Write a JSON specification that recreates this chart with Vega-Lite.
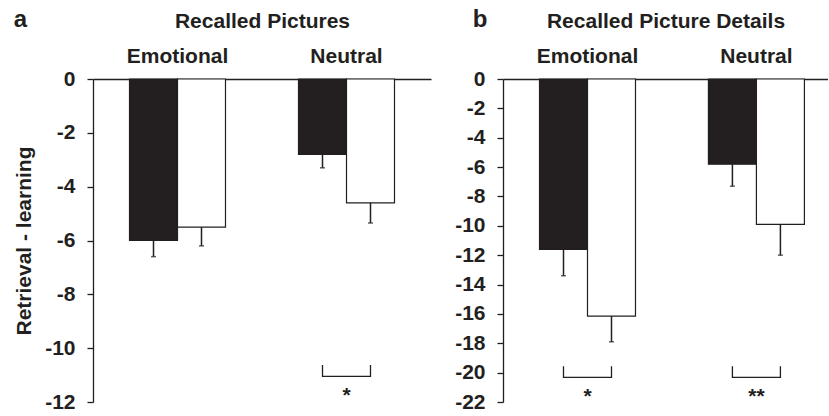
{
  "$schema": "https://vega.github.io/schema/vega-lite/v6.json",
  "padding": {"left": 13, "top": 8, "right": 0, "bottom": 0},
  "spacing": 23,
  "config": {
    "font": "Liberation Sans",
    "view": {"stroke": null},
    "axis": {
      "labelFont": "Liberation Sans", "labelFontWeight": "bold", "labelFontSize": 21, "labelColor": "#231f20",
      "titleFont": "Liberation Sans", "titleFontWeight": "bold", "titleFontSize": 21, "titleColor": "#231f20",
      "domainColor": "#231f20", "tickColor": "#231f20", "grid": false, "domainWidth": 1.3, "tickWidth": 1.3
    },
    "title": {"font": "Liberation Sans", "fontSize": 24, "fontWeight": "bold", "color": "#231f20", "anchor": "start", "frame": "bounds"}
  },
  "datasets": {
    "barsA": [
      {"group": "Emotional", "cond": "Group 1", "value": -6.0, "err": -6.6},
      {"group": "Emotional", "cond": "Group 2", "value": -5.5, "err": -6.2},
      {"group": "Neutral", "cond": "Group 1", "value": -2.8, "err": -3.3},
      {"group": "Neutral", "cond": "Group 2", "value": -4.6, "err": -5.35}
    ],
    "bracketsA": [
      {"id": 1, "ord": 1, "group": "Neutral", "cond": "Group 1", "value": -10.63},
      {"id": 1, "ord": 2, "group": "Neutral", "cond": "Group 1", "value": -11.05},
      {"id": 1, "ord": 3, "group": "Neutral", "cond": "Group 2", "value": -11.05},
      {"id": 1, "ord": 4, "group": "Neutral", "cond": "Group 2", "value": -10.63}
    ],
    "starsA": [
      {"group": "Neutral", "label": "*", "value": -12.0}
    ],
    "barsB": [
      {"group": "Emotional", "cond": "Group 1", "value": -11.6, "err": -13.4},
      {"group": "Emotional", "cond": "Group 2", "value": -16.15, "err": -17.9},
      {"group": "Neutral", "cond": "Group 1", "value": -5.8, "err": -7.3},
      {"group": "Neutral", "cond": "Group 2", "value": -9.9, "err": -12.0}
    ],
    "bracketsB": [
      {"id": 1, "ord": 1, "group": "Emotional", "cond": "Group 1", "value": -19.56},
      {"id": 1, "ord": 2, "group": "Emotional", "cond": "Group 1", "value": -20.32},
      {"id": 1, "ord": 3, "group": "Emotional", "cond": "Group 2", "value": -20.32},
      {"id": 1, "ord": 4, "group": "Emotional", "cond": "Group 2", "value": -19.56},
      {"id": 2, "ord": 1, "group": "Neutral", "cond": "Group 1", "value": -19.56},
      {"id": 2, "ord": 2, "group": "Neutral", "cond": "Group 1", "value": -20.32},
      {"id": 2, "ord": 3, "group": "Neutral", "cond": "Group 2", "value": -20.32},
      {"id": 2, "ord": 4, "group": "Neutral", "cond": "Group 2", "value": -19.56}
    ],
    "starsB": [
      {"group": "Emotional", "label": "*", "value": -22.1},
      {"group": "Neutral", "label": "**", "value": -22.1}
    ]
  },
  "hconcat": [
    {
      "width": 338, "height": 323,
      "title": {"text": "a", "dy": 26},
      "encoding": {
        "x": {"field": "group", "type": "nominal",
              "scale": {"domain": ["Emotional", "Neutral"], "paddingInner": 0.432, "paddingOuter": 0.216},
              "axis": {"orient": "top", "title": "Recalled Pictures", "ticks": false, "tickSize": 0, "labelPadding": 13, "labelAngle": 0, "titlePadding": 14}},
        "y": {"field": "value", "type": "quantitative", "title": "Retrieval - learning",
              "scale": {"domain": [-12, 0], "nice": false, "zero": false},
              "axis": {"values": [0, -2, -4, -6, -8, -10, -12], "labelExpr": "replace(datum.label, '−', '-')", "tickSize": 6, "labelPadding": 12, "titlePadding": 10}}
      },
      "layer": [
        {"data": {"name": "barsA"}, "mark": {"type": "bar", "stroke": "#231f20", "strokeWidth": 1.2},
         "encoding": {
           "xOffset": {"field": "cond", "type": "nominal", "scale": {"paddingInner": 0, "paddingOuter": 0}},
           "fill": {"field": "cond", "type": "nominal", "scale": {"domain": ["Group 1", "Group 2"], "range": ["#231f20", "#ffffff"]}, "legend": null}
         }},
        {"data": {"name": "barsA"}, "mark": {"type": "rule", "color": "#231f20", "strokeWidth": 1.5},
         "encoding": {"xOffset": {"field": "cond", "type": "nominal"}, "y2": {"field": "err"}}},
        {"data": {"name": "barsA"}, "mark": {"type": "tick", "color": "#231f20", "size": 5, "thickness": 1.5},
         "encoding": {"xOffset": {"field": "cond", "type": "nominal"}, "y": {"field": "err", "type": "quantitative", "title": "Retrieval - learning"}}},
        {"data": {"name": "bracketsA"}, "mark": {"type": "line", "color": "#231f20", "strokeWidth": 1.3},
         "encoding": {"xOffset": {"field": "cond", "type": "nominal"}, "detail": {"field": "id"}, "order": {"field": "ord"}}},
        {"data": {"name": "starsA"}, "mark": {"type": "text", "font": "Liberation Sans", "fontWeight": "bold", "fontSize": 21, "color": "#231f20", "baseline": "alphabetic"},
         "encoding": {"text": {"field": "label"}}}
      ]
    },
    {
      "width": 325, "height": 323,
      "title": {"text": "b", "dy": 26, "dx": 18},
      "encoding": {
        "x": {"field": "group", "type": "nominal",
              "scale": {"domain": ["Emotional", "Neutral"], "paddingInner": 0.432, "paddingOuter": 0.178, "align": 0.607},
              "axis": {"orient": "top", "title": "Recalled Picture Details", "ticks": false, "tickSize": 0, "labelPadding": 13, "labelAngle": 0, "titlePadding": 14}},
        "y": {"field": "value", "type": "quantitative", "title": null,
              "scale": {"domain": [-22, 0], "nice": false, "zero": false},
              "axis": {"values": [0, -2, -4, -6, -8, -10, -12, -14, -16, -18, -20, -22], "labelExpr": "replace(datum.label, '−', '-')", "tickSize": 6, "labelPadding": 12}}
      },
      "layer": [
        {"data": {"name": "barsB"}, "mark": {"type": "bar", "stroke": "#231f20", "strokeWidth": 1.2},
         "encoding": {
           "xOffset": {"field": "cond", "type": "nominal", "scale": {"paddingInner": 0, "paddingOuter": 0}},
           "fill": {"field": "cond", "type": "nominal", "scale": {"domain": ["Group 1", "Group 2"], "range": ["#231f20", "#ffffff"]}, "legend": null}
         }},
        {"data": {"name": "barsB"}, "mark": {"type": "rule", "color": "#231f20", "strokeWidth": 1.5},
         "encoding": {"xOffset": {"field": "cond", "type": "nominal"}, "y2": {"field": "err"}}},
        {"data": {"name": "barsB"}, "mark": {"type": "tick", "color": "#231f20", "size": 5, "thickness": 1.5},
         "encoding": {"xOffset": {"field": "cond", "type": "nominal"}, "y": {"field": "err", "type": "quantitative", "title": null}}},
        {"data": {"name": "bracketsB"}, "mark": {"type": "line", "color": "#231f20", "strokeWidth": 1.3},
         "encoding": {"xOffset": {"field": "cond", "type": "nominal"}, "detail": {"field": "id"}, "order": {"field": "ord"}}},
        {"data": {"name": "starsB"}, "mark": {"type": "text", "font": "Liberation Sans", "fontWeight": "bold", "fontSize": 21, "color": "#231f20", "baseline": "alphabetic"},
         "encoding": {"text": {"field": "label"}}}
      ]
    }
  ]
}
